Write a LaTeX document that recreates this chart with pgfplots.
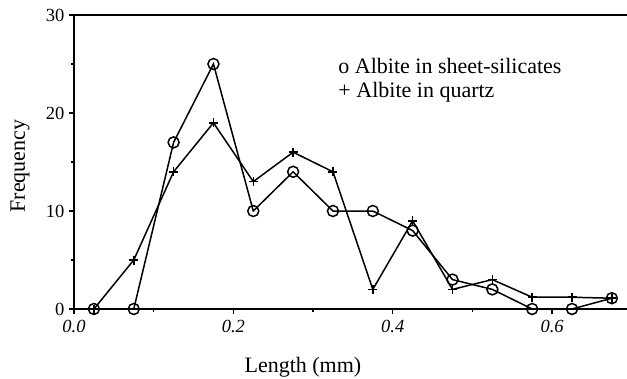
\documentclass[border=0pt]{standalone}
\usepackage{fontspec}
\setmainfont{Liberation Serif}
\usepackage{pgfplots}
\pgfplotsset{compat=1.18}
\begin{document}
\begin{tikzpicture}
\useasboundingbox (-74pt,-69pt) rectangle (553pt,309pt);
\begin{axis}[
  scale only axis,
  width=553pt, height=294pt,
  xmin=0, xmax=0.694, ymin=0, ymax=30,
  axis x line=box, axis y line=left,
  axis line style={-, line width=1.6pt},
  tick pos=left,
  tick align=outside,
  xtick={0,0.2,0.4,0.6},
  xticklabels={0.0,0.2,0.4,0.6},
  minor xtick={0.1,0.3,0.5},
  ytick={0,10,20,30},
  minor ytick={5,15,25},
  major tick length=5pt, minor tick length=3pt,
  every tick/.style={black, line width=1.2pt},
  /pgf/number format/assume math mode=true,
  xticklabel style={font=\fontsize{18.5}{22}\selectfont\itshape, yshift=-3pt},
  yticklabel style={font=\fontsize{18.5}{22}\selectfont, xshift=-1pt},
  xlabel={Length (mm)},
  ylabel={Frequency},
  xlabel style={font=\fontsize{22}{26}\selectfont, at={(axis description cs:0.414,0)}, anchor=base, yshift=-63pt},
  ylabel style={font=\fontsize{22}{26}\selectfont, at={(axis description cs:-0.0976,0.486)}, anchor=center},
  clip=false,
]
\addplot[black, line width=1.5pt, mark=+, mark size=4.5pt, mark options={line width=1.5pt}] coordinates {
(0.025,0) (0.075,5) (0.125,14) (0.175,19) (0.225,13) (0.275,16) (0.325,14)
(0.375,2) (0.425,9) (0.475,2) (0.525,3) (0.575,1.2) (0.625,1.2) (0.675,1.1)};
\addplot[black, line width=1.5pt, mark=o, mark size=5.5pt, mark options={fill=white, line width=1.5pt}] coordinates {
(0.025,0) (0.075,0) (0.125,17) (0.175,25) (0.225,10) (0.275,14) (0.325,10)
(0.375,10) (0.425,8) (0.475,3) (0.525,2) (0.575,0) (0.625,0) (0.675,1.1)};
\node[anchor=base west, font=\fontsize{22}{26}\selectfont] at (axis cs:0.3275,24.08) {o Albite in sheet-silicates};
\node[anchor=base west, font=\fontsize{22}{26}\selectfont] at (axis cs:0.3275,21.63) {+ Albite in quartz};
\end{axis}
\end{tikzpicture}
\end{document}
